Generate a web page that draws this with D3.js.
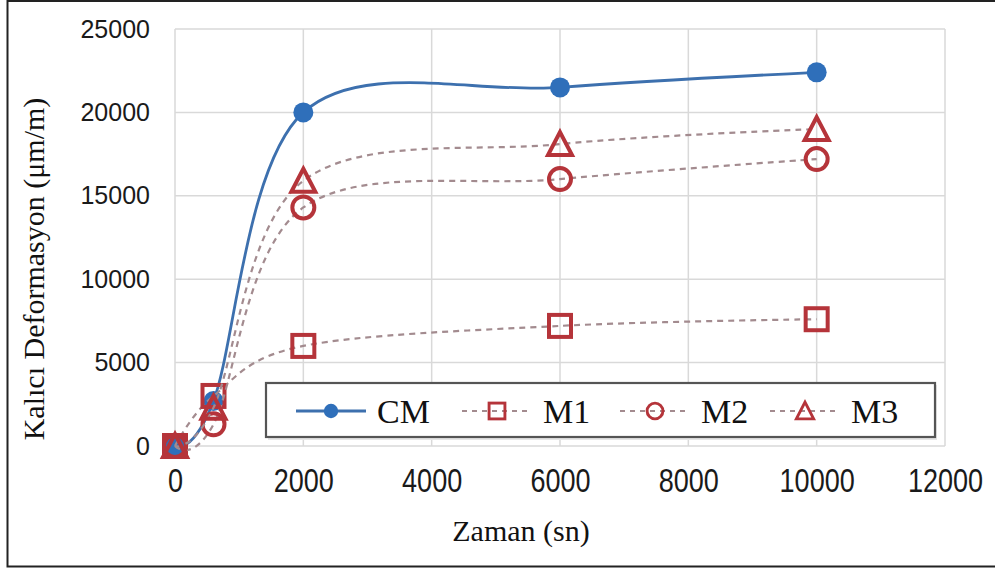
<!DOCTYPE html>
<html><head><meta charset="utf-8">
<script src="https://cdn.jsdelivr.net/npm/d3@7/dist/d3.min.js"></script>
<style>body{margin:0;background:#fff}svg{display:block}</style>
</head><body>
<svg id="chart" width="995" height="568"></svg>
<script>
// ---- data ----
const times = [0, 600, 2000, 6000, 10000];
const seriesNames = ["CM", "M1", "M2", "M3"];
const cmValues = [0, 2700, 20000, 21500, 22400];
const m1Values = [0, 3000, 6000, 7200, 7600];
const m2Values = [0, 1300, 14300, 16000, 17200];
const m3Values = [0, 2300, 15900, 18100, 19000];
const xTickValues = [0, 2000, 4000, 6000, 8000, 10000, 12000];
const yTickValues = [0, 5000, 10000, 15000, 20000, 25000];
const xTitle = "Zaman (sn)";
const yTitle = "Kalıcı Deformasyon (μm/m)";

// ---- layout ----
const W = 995, H = 568;
const plot = {left: 175, right: 945, top: 29, bottom: 446};
const svg = d3.select("#chart");
svg.append("rect").attr("width", W).attr("height", H).attr("fill", "#fff");

const x = d3.scaleLinear().domain([0, 12000]).range([plot.left, plot.right]);
const y = d3.scaleLinear().domain([0, 25000]).range([plot.bottom, plot.top]);

const gridColor = "#d9d9d9";
svg.append("g").selectAll("line").data(xTickValues).join("line")
  .attr("x1", d => x(d)).attr("x2", d => x(d))
  .attr("y1", plot.top).attr("y2", plot.bottom)
  .attr("stroke", gridColor).attr("stroke-width", 1.5);
svg.append("g").selectAll("line").data(yTickValues).join("line")
  .attr("x1", plot.left).attr("x2", plot.right)
  .attr("y1", d => y(d)).attr("y2", d => y(d))
  .attr("stroke", gridColor).attr("stroke-width", 1.5);

// axes (labels only)
const yAxis = svg.append("g").attr("transform", `translate(${plot.left},0)`)
  .call(d3.axisLeft(y).tickValues(yTickValues).tickSize(0).tickPadding(25).tickFormat(d3.format("d")));
yAxis.select(".domain").remove();
yAxis.selectAll("text").attr("font-family", "Liberation Sans, Arial, sans-serif")
  .attr("font-size", 25).attr("fill", "#1a1a1a");

const xAxis = svg.append("g").attr("transform", `translate(0,${plot.bottom})`)
  .call(d3.axisBottom(x).tickValues(xTickValues).tickSize(0).tickPadding(23).tickFormat(d3.format("d")));
xAxis.select(".domain").remove();
xAxis.selectAll("text").attr("font-family", "Liberation Sans, Arial, sans-serif")
  .attr("font-size", 33).attr("fill", "#1a1a1a").attr("transform", "scale(0.82,1)");

// titles
svg.append("text").attr("x", 521).attr("y", 541).attr("text-anchor", "middle")
  .attr("font-family", "Liberation Serif, Times New Roman, serif").attr("font-size", 30)
  .attr("fill", "#111").text(xTitle);
svg.append("text").attr("transform", "translate(44,269) rotate(-90)").attr("text-anchor", "middle")
  .attr("font-family", "Liberation Serif, Times New Roman, serif").attr("font-size", 30)
  .attr("fill", "#111").text(yTitle);

// series
const blue = "#3d70ae", blueFill = "#2f6fba";
const red = "#b5343a", dashCol = "#a38b8f";
const series = [
  {name: seriesNames[0], values: cmValues, kind: "circleFill"},
  {name: seriesNames[1], values: m1Values, kind: "square"},
  {name: seriesNames[2], values: m2Values, kind: "circle"},
  {name: seriesNames[3], values: m3Values, kind: "triangle"}
];
const line = d3.line().x(d => x(d[0])).y(d => y(d[1])).curve(d3.curveCardinal.tension(0));

function drawMarker(g, kind, cx, cy, s) {
  if (kind === "circleFill") {
    g.append("circle").attr("cx", cx).attr("cy", cy).attr("r", 10 * s).attr("fill", blueFill);
  } else if (kind === "square") {
    const a = 22 * s;
    g.append("rect").attr("x", cx - a / 2).attr("y", cy - a / 2).attr("width", a).attr("height", a)
      .attr("fill", "none").attr("stroke", red).attr("stroke-width", 4 * s);
  } else if (kind === "circle") {
    g.append("circle").attr("cx", cx).attr("cy", cy).attr("r", 11 * s)
      .attr("fill", "none").attr("stroke", red).attr("stroke-width", 4 * s);
  } else if (kind === "triangle") {
    const h = 22 * s, w = 24 * s;
    g.append("path").attr("d", `M${cx},${cy - h / 2 - 1}L${cx + w / 2},${cy + h / 2}L${cx - w / 2},${cy + h / 2}Z`)
      .attr("fill", "none").attr("stroke", red).attr("stroke-width", 4 * s);
  }
}

series.forEach(s => {
  const pts = times.map((t, i) => [t, s.values[i]]);
  const g = svg.append("g");
  const isCM = s.kind === "circleFill";
  g.append("path").attr("d", line(pts)).attr("fill", "none")
    .attr("stroke", isCM ? blue : dashCol)
    .attr("stroke-width", isCM ? 2.8 : 2.2)
    .attr("stroke-dasharray", isCM ? null : "6,5");
  pts.forEach(p => drawMarker(g, s.kind, x(p[0]), y(p[1]), 1));
});

// legend
const lg = svg.append("g");
lg.append("rect").attr("x", 268).attr("y", 385).attr("width", 669).attr("height", 55)
  .attr("fill", "#e6e6e6");
lg.append("rect").attr("x", 266).attr("y", 383).attr("width", 669).attr("height", 54)
  .attr("fill", "#fff").attr("stroke", "#555").attr("stroke-width", 2.2);
const legendX = [296, 462, 620, 770];
series.forEach((s, i) => {
  const lx = legendX[i], ly = 411;
  const isCM = s.kind === "circleFill";
  lg.append("line").attr("x1", lx).attr("x2", lx + 70).attr("y1", ly).attr("y2", ly)
    .attr("stroke", isCM ? blue : dashCol).attr("stroke-width", isCM ? 3 : 2.2)
    .attr("stroke-dasharray", isCM ? null : "5,5");
  drawMarker(lg, s.kind, lx + 35, ly, 0.72);
  lg.append("text").attr("x", lx + 81).attr("y", ly + 12)
    .attr("font-family", "Liberation Serif, Times New Roman, serif").attr("font-size", 34)
    .attr("fill", "#111").text(s.name);
});

// outer frame
svg.append("path").attr("d", `M${W},1H7.5V566.5H${W}`).attr("fill", "none")
  .attr("stroke", "#222").attr("stroke-width", 2);
</script>
</body></html>
